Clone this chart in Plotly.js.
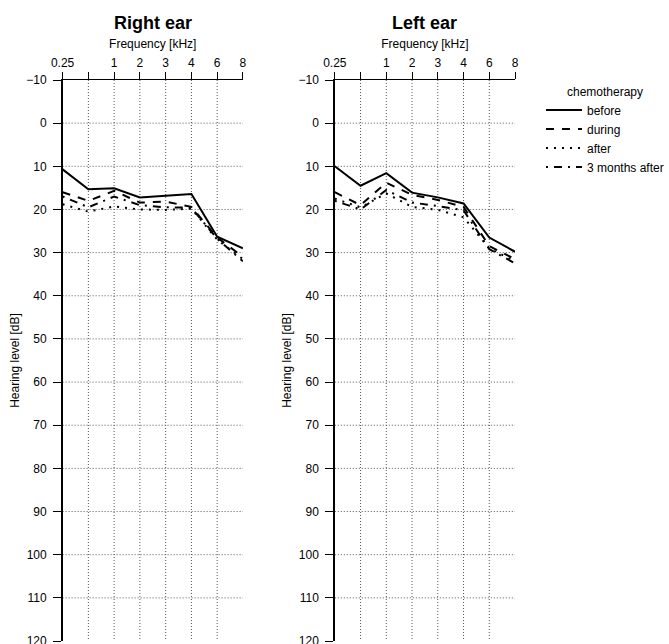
<!DOCTYPE html>
<html><head><meta charset="utf-8">
<script src="https://cdn.plot.ly/plotly-3.0.1.min.js"></script>
<style>body{margin:0;background:#fff}</style>
</head><body><div id="chart" style="width:669px;height:644px"></div>
<script>
// ---- data ----
const freqLabels = ['0.25','0.5','1','2','3','4','6','8'];
const freqTickText = ['0.25','','1','2','3','4','6','8'];
const dbTicks = [-10,0,10,20,30,40,50,60,70,80,90,100,110,120];
const seriesNames = ['before','during','after','3 months after'];

const rightBefore = [10.7, 15.3, 15.1, 17.2, 16.8, 16.4, 26.3, 29.0];
const rightDuring = [16.0, 18.0, 15.7, 18.4, 18.2, 19.4, 26.5, 31.0];
const rightAfter  = [18.8, 20.5, 19.3, 20.0, 20.1, 19.8, 27.0, 31.5];
const right3m     = [17.0, 19.5, 17.0, 19.0, 19.5, 19.6, 26.8, 32.0];

const leftBefore = [10.0, 14.5, 11.6, 16.1, 17.2, 18.6, 26.5, 29.8];
const leftDuring = [16.0, 19.0, 13.8, 16.6, 17.8, 19.4, 28.5, 31.5];
const leftAfter  = [17.5, 19.5, 16.3, 19.4, 20.1, 21.8, 29.0, 32.0];
const left3m     = [18.0, 20.0, 15.5, 18.4, 19.2, 20.2, 29.2, 32.5];

// ---- build ----
const xIdx = freqLabels.map((_, i) => i);
const dashes = ['solid', '8px,8px', '2px,6px', '2px,6px,8px,6px'];
const FONT = 'Liberation Sans, Arial, sans-serif';

const rightSeries = [rightBefore, rightDuring, rightAfter, right3m];
const leftSeries = [leftBefore, leftDuring, leftAfter, left3m];

const traces = [];
rightSeries.forEach((ys, k) => traces.push({
  x: xIdx, y: ys, xaxis: 'x', yaxis: 'y', type: 'scatter', mode: 'lines',
  name: seriesNames[k], showlegend: true,
  line: {color: '#000', width: 2, dash: dashes[k]}, hoverinfo: 'skip'
}));
leftSeries.forEach((ys, k) => traces.push({
  x: xIdx, y: ys, xaxis: 'x2', yaxis: 'y2', type: 'scatter', mode: 'lines',
  name: seriesNames[k], showlegend: false,
  line: {color: '#000', width: 2, dash: dashes[k]}, hoverinfo: 'skip'
}));

const W = 669;
const xDom1 = [62.7 / W, 243.3 / W];
const xDom2 = [335.3 / W, 515.8 / W];
const lastIdx = xIdx[xIdx.length - 1];

function xAxis(dom, anchor) {
  return {
    domain: dom, anchor: anchor, range: [0, lastIdx], side: 'top',
    tickmode: 'array', tickvals: xIdx, ticktext: freqTickText,
    ticks: 'outside', ticklen: 7, tickwidth: 1, tickcolor: '#000',
    showline: true, linecolor: '#000', linewidth: 1.5,
    showgrid: false, zeroline: false,
    tickfont: {family: FONT, size: 12, color: '#000'},
    title: {text: 'Frequency [kHz]', font: {family: FONT, size: 12, color: '#000'}, standoff: 4}
  };
}
function yAxis(anchor) {
  return {
    domain: [0, 1], anchor: anchor, range: [dbTicks[dbTicks.length - 1], dbTicks[0]],
    tickmode: 'array', tickvals: dbTicks,
    ticks: 'outside', ticklen: 8, tickwidth: 1, tickcolor: '#000',
    ticklabelstandoff: 4, ticklabeloverflow: 'allow',
    showline: true, linecolor: '#000', linewidth: 1.5,
    showgrid: false, zeroline: false,
    tickfont: {family: FONT, size: 12, color: '#000'},
    title: {text: 'Hearing level [dB]', font: {family: FONT, size: 12, color: '#000'}, standoff: 4}
  };
}

// gridlines (dotted) built from tick arrays
const shapes = [];
[['x', 'y'], ['x2', 'y2']].forEach(([xr, yr]) => {
  xIdx.slice(1, -1).forEach(i => shapes.push({
    type: 'line', xref: xr, yref: yr, x0: i, x1: i, y0: dbTicks[0], y1: dbTicks[dbTicks.length - 1],
    line: {color: '#555', width: 1, dash: '1px,2px'}, layer: 'below'
  }));
  dbTicks.slice(1, -1).forEach(v => shapes.push({
    type: 'line', xref: xr, yref: yr, x0: 0, x1: lastIdx, y0: v, y1: v,
    line: {color: '#555', width: 1, dash: '1px,2px'}, layer: 'below'
  }));
});

const layout = {
  width: 669, height: 644,
  margin: {l: 0, r: 0, t: 80, b: 3},
  paper_bgcolor: '#fff', plot_bgcolor: '#fff',
  font: {family: FONT, size: 12, color: '#000'},
  xaxis: xAxis(xDom1, 'y'), yaxis: yAxis('x'),
  xaxis2: xAxis(xDom2, 'y2'), yaxis2: yAxis('x2'),
  shapes: shapes,
  showlegend: true,
  legend: {
    x: 542 / W, xanchor: 'left', y: 1.0, yanchor: 'top',
    bgcolor: 'rgba(0,0,0,0)', borderwidth: 0, tracegroupgap: 0, itemwidth: 36,
    title: {text: 'chemotherapy', side: 'top center', font: {family: FONT, size: 12, color: '#000'}},
    font: {family: FONT, size: 12, color: '#000'}
  },
  annotations: [
    {text: '<b>Right ear</b>', xref: 'x domain', x: 0.5, yref: 'paper', y: (641 - 23) / 561,
     showarrow: false, xanchor: 'center', yanchor: 'middle', font: {family: FONT, size: 18, color: '#000'}},
    {text: '<b>Left ear</b>', xref: 'x2 domain', x: 0.5, yref: 'paper', y: (641 - 23) / 561,
     showarrow: false, xanchor: 'center', yanchor: 'middle', font: {family: FONT, size: 18, color: '#000'}}
  ]
};

Plotly.newPlot('chart', traces, layout, {displayModeBar: false, staticPlot: true});
</script>
</body></html>
